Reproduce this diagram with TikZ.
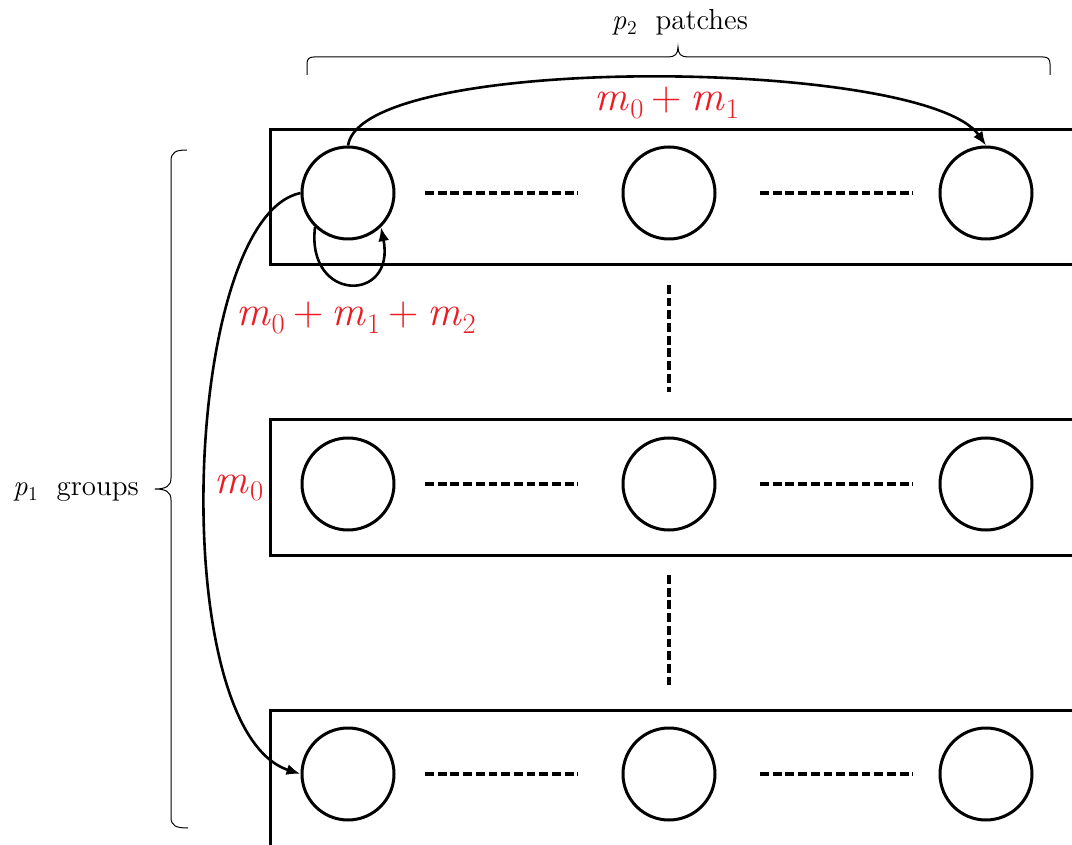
\documentclass[tikz,border=0pt]{standalone}
\usetikzlibrary{arrows.meta}
\newcommand\vsub[2]{\textit{#1}\kern0.02em\raisebox{-0.4ex}{\scalebox{0.68}{#2}}}
\newcommand\pls{\kern0.2em+\kern0.2em}
\definecolor{lblred}{RGB}{237,28,36}
\tikzset{
  patch/.style={circle,draw,line width=1.5pt,minimum size=46pt,inner sep=0pt},
  rowbox/.style={draw,line width=1.5pt},
  dline/.style={line width=1.6pt,dash pattern=on 4.4pt off 1.95pt},
  arr/.style={line width=1.3pt,-{Latex[length=7pt,width=5.5pt]}},
  brc/.style={line width=0.5pt},
  lbl/.style={font=\fontsize{14.5}{18}\selectfont,inner sep=0pt},
  red/.style={text=lblred,font=\fontsize{21}{25}\selectfont,inner sep=0pt}
}
\begin{document}
\begin{tikzpicture}[x=0.5pt,y=0.5pt]
\useasboundingbox (0,0) rectangle (1072,-845);
\clip (0,0) rectangle (1072,-845);
% row boxes
\draw[rowbox] (270,-130) rectangle (1100,-265);
\draw[rowbox] (270,-420) rectangle (1100,-555);
\draw[rowbox] (270,-710) rectangle (1100,-900);
% patches
\foreach \r/\y in {1/193,2/484,3/774}{
  \node[patch] (c\r1) at (348,-\y) {};
  \node[patch] (c\r2) at (669,-\y) {};
  \node[patch] (c\r3) at (986,-\y) {};
  \draw[dline] (425,-\y) -- (578,-\y);
  \draw[dline] (760,-\y) -- (913,-\y);
}
% vertical dots
\draw[dline] (669,-285) -- (669,-392);
\draw[dline] (669,-575) -- (669,-685);
% braces
\draw[brc] (307,-75) -- (307,-64) .. controls (307,-59) and (309,-57) .. (314,-57) -- (668,-57)
  .. controls (675,-57) and (678,-54) .. (678,-47) .. controls (678,-54) and (681,-57) .. (688,-57)
  -- (1043,-57) .. controls (1048,-57) and (1050,-59) .. (1050,-64) -- (1050,-75);
\draw[brc] (187,-150) .. controls (176,-150) and (171,-152) .. (171,-161) -- (171,-478)
  .. controls (171,-486) and (166,-489) .. (155,-489) .. controls (166,-489) and (171,-492) .. (171,-500)
  -- (171,-817) .. controls (171,-826) and (176,-828) .. (188,-828);
\node[lbl] (tp) at (680,-22) {\vsub{p}{2}\ \ patches};
\node[lbl] (tg) at (76,-492) {\vsub{p}{1}\ \ groups};
% arrows
\draw[arr] (c11.north) .. controls (362,-52) and (925,-58) .. (c13.north);
\draw[arr] (c11.226) .. controls (306,-303) and (396,-303) .. (c11.314);
\draw[arr] (c11.west) .. controls (182,-218) and (165,-730) .. (c31.west);
% labels
\node[red] (l1) at (667,-103) {\vsub{m}{0}\pls\vsub{m}{1}};
\node[red] (l2) at (356,-318) {\vsub{m}{0}\pls\vsub{m}{1}\pls\vsub{m}{2}};
\node[red] (l3) at (239,-488) {\vsub{m}{0}};
\end{tikzpicture}
\end{document}
